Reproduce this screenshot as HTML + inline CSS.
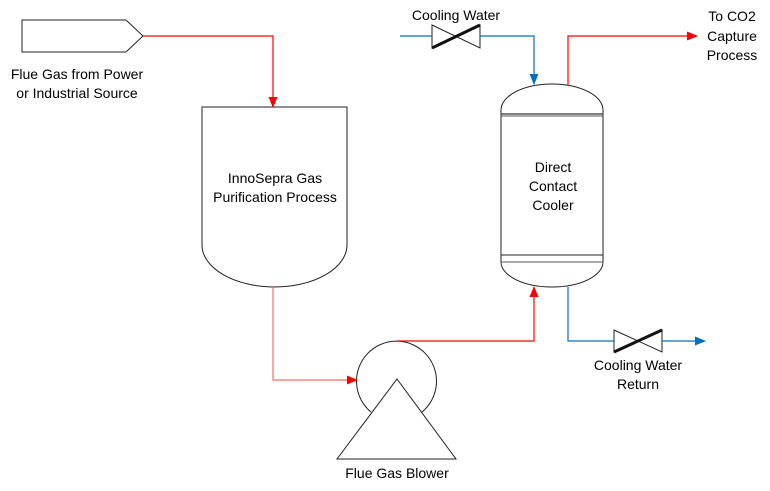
<!DOCTYPE html>
<html><head><style>body{margin:0;background:#fff}svg{display:block}text{font-family:"Liberation Sans",sans-serif;font-size:14px;fill:#000}</style></head><body>
<svg width="770" height="491" viewBox="0 0 770 491">
<defs>
<marker id="r" markerWidth="11" markerHeight="11" refX="10" refY="5.5" orient="auto" markerUnits="userSpaceOnUse"><path d="M0,1 L11,5.5 L0,10Z" fill="#f00"/></marker>
<marker id="b" markerWidth="11" markerHeight="11" refX="10" refY="5.5" orient="auto" markerUnits="userSpaceOnUse"><path d="M0,1 L11,5.5 L0,10Z" fill="#0070c0"/></marker>
</defs>
<g fill="none" stroke="#222" stroke-width="1">
<path d="M22,20 H126 L143,36 L126,52 H22Z"/>
<path d="M202,107 H347 V245 A72.5,42 0 0 1 202,245 Z"/>
<path d="M501,110 A51,26 0 0 1 603,110 V262 A51,25 0 0 1 501,262 Z"/>
<line x1="501" y1="114" x2="603" y2="114" stroke-width="1.5" stroke="#555"/>
<line x1="501" y1="116" x2="603" y2="116" stroke-width="1" stroke="#555"/>
<line x1="501" y1="255" x2="603" y2="255"/>
<line x1="501" y1="262" x2="603" y2="262" stroke="#555"/>
<path d="M371,412 A40,40 0 1 1 422,412"/>
<path d="M397,379 L456,459 L337,459Z"/>
<path d="M432,25 L480,48 V25 L432,48Z"/>
<path d="M614,330 L662,352 V330 L614,352Z"/>
</g>
<line x1="432" y1="48" x2="480" y2="25" stroke="#111" stroke-width="3"/>
<line x1="614" y1="352" x2="662" y2="330" stroke="#111" stroke-width="3"/>
<g fill="none" stroke="#f00" stroke-width="1.2">
<path d="M143,36 H273 V107" marker-end="url(#r)"/>
<path d="M273,287 V380 H357" marker-end="url(#r)" stroke="#f66"/>
<path d="M397,341 H534 V287" marker-end="url(#r)"/>
<path d="M568,86 V36 H697" marker-end="url(#r)"/>
</g>
<g fill="none" stroke="#0070c0" stroke-width="1.2">
<path d="M400,36 H432"/>
<path d="M480,36 H534 V84" marker-end="url(#b)"/>
<path d="M568,287 V341 H614"/>
<path d="M662,341 H705" marker-end="url(#b)"/>
</g>
<text x="77" y="79" text-anchor="middle">Flue Gas from Power</text>
<text x="77" y="98" text-anchor="middle">or Industrial Source</text>
<text x="275" y="183" text-anchor="middle">InnoSepra Gas</text>
<text x="275" y="202" text-anchor="middle">Purification Process</text>
<text x="553" y="172" text-anchor="middle">Direct</text>
<text x="553" y="191" text-anchor="middle">Contact</text>
<text x="553" y="210" text-anchor="middle">Cooler</text>
<text x="456" y="20" text-anchor="middle">Cooling Water</text>
<text x="732" y="21" text-anchor="middle">To CO2</text>
<text x="732" y="41" text-anchor="middle">Capture</text>
<text x="732" y="60" text-anchor="middle">Process</text>
<text x="638" y="370" text-anchor="middle">Cooling Water</text>
<text x="638" y="389" text-anchor="middle">Return</text>
<text x="397" y="478" text-anchor="middle">Flue Gas Blower</text>
</svg>
</body></html>
